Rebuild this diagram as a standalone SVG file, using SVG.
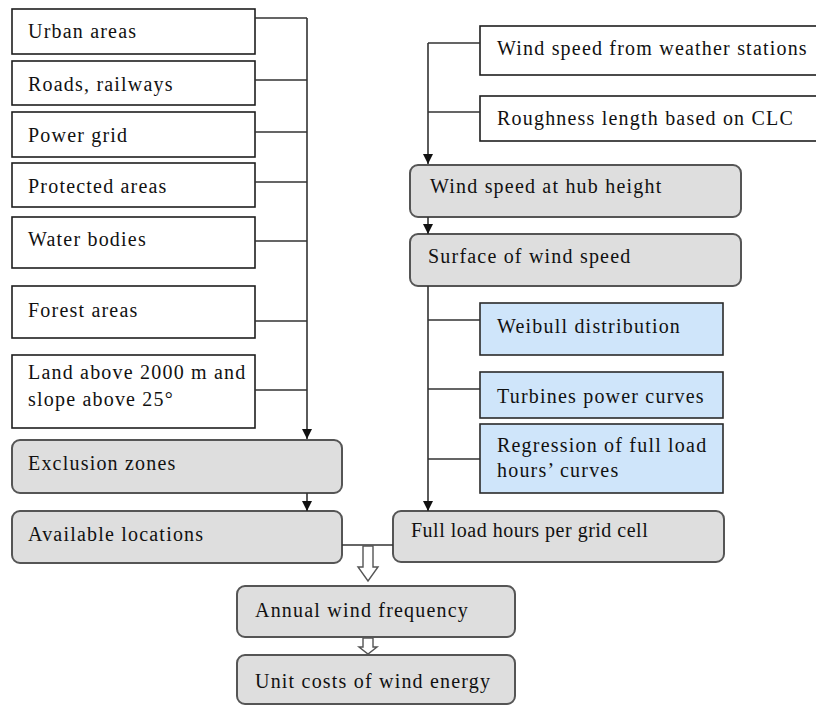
<svg xmlns="http://www.w3.org/2000/svg" width="816" height="706" viewBox="0 0 816 706">
<style>
.w{fill:#ffffff;stroke:#1e1e1e;stroke-width:1.6}
.g{fill:#dedede;stroke:#555555;stroke-width:2}
.b{fill:#cfe5fa;stroke:#2a2a2a;stroke-width:1.6}
text{font-family:"Liberation Serif","DejaVu Serif",serif;font-size:20px;fill:#111;letter-spacing:1.2px}
.ln{stroke:#333;stroke-width:1.6;fill:none}
.ha{fill:#ffffff;stroke:#555;stroke-width:1.4}
</style>
<defs>
<marker id="ar" markerWidth="10" markerHeight="10" refX="10" refY="5" orient="auto" markerUnits="userSpaceOnUse">
<path d="M0,0 L10,5 L0,10 Z" fill="#111"/>
</marker>
</defs>
<rect width="816" height="706" fill="#ffffff"/>
<g id="urban"><rect class="w" x="12" y="9" width="243" height="45"/><text x="28" y="38">Urban areas</text></g>
<g id="roads"><rect class="w" x="12" y="61" width="243" height="44"/><text x="28" y="91">Roads, railways</text></g>
<g id="power"><rect class="w" x="12" y="112" width="243" height="45"/><text x="28" y="142">Power grid</text></g>
<g id="protected"><rect class="w" x="12" y="163" width="243" height="44"/><text x="28" y="193">Protected areas</text></g>
<g id="water"><rect class="w" x="12" y="217" width="243" height="51"/><text x="28" y="246">Water bodies</text></g>
<g id="forest"><rect class="w" x="12" y="286" width="243" height="52"/><text x="28" y="317">Forest areas</text></g>
<g id="land"><rect class="w" x="12" y="355" width="243" height="73"/><text x="28" y="379">Land above 2000 m and</text><text x="28" y="406">slope above 25°</text></g>
<g id="exclusion"><rect class="g" x="12" y="440" width="330" height="53" rx="8"/><text x="28" y="470">Exclusion zones</text></g>
<g id="available"><rect class="g" x="12" y="511" width="330" height="52" rx="8"/><text x="28" y="541">Available locations</text></g>
<g id="windstations"><rect class="w" x="480" y="26" width="345" height="49"/><text x="497" y="55">Wind speed from weather stations</text></g>
<g id="roughness"><rect class="w" x="480" y="96" width="345" height="45"/><text x="497" y="125">Roughness length based on CLC</text></g>
<g id="hub"><rect class="g" x="410" y="165" width="331" height="52" rx="8"/><text x="430" y="193">Wind speed at hub height</text></g>
<g id="surface"><rect class="g" x="410" y="234" width="331" height="52" rx="8"/><text x="428" y="263">Surface of wind speed</text></g>
<g id="weibull"><rect class="b" x="480" y="303" width="243" height="52"/><text x="497" y="333">Weibull distribution</text></g>
<g id="turbines"><rect class="b" x="480" y="372" width="243" height="46"/><text x="497" y="403">Turbines power curves</text></g>
<g id="regression"><rect class="b" x="480" y="424" width="243" height="69"/><text x="497" y="452">Regression of full load</text><text x="497" y="477">hours’ curves</text></g>
<g id="fullload"><rect class="g" x="393" y="511" width="331" height="51" rx="8"/><text x="411" y="537" style="letter-spacing:0.5px">Full load hours per grid cell</text></g>
<g id="annual"><rect class="g" x="237" y="586" width="278" height="51" rx="8"/><text x="255" y="617">Annual wind frequency</text></g>
<g id="unitcosts"><rect class="g" x="237" y="655" width="278" height="49" rx="8"/><text x="255" y="688">Unit costs of wind energy</text></g>
<g id="connectors">
<path class="ln" d="M307,18 L307,439" marker-end="url(#ar)"/>
<path class="ln" d="M255,18 H307 M255,80 H307 M255,132 H307 M255,182 H307 M255,241 H307 M255,321 H307 M255,390 H307"/>
<path class="ln" d="M307,493 L307,511" marker-end="url(#ar)"/>
<path class="ln" d="M428,43 L428,164" marker-end="url(#ar)"/>
<path class="ln" d="M428,43 H480 M428,112 H480"/>
<path class="ln" d="M428,217 L428,234" marker-end="url(#ar)"/>
<path class="ln" d="M428,286 L428,511" marker-end="url(#ar)"/>
<path class="ln" d="M428,320 H480 M428,389 H480 M428,459 H480"/>
<path class="ln" d="M342,545 H393"/>
<path class="ha" d="M363,546 V567 H358 L368,581 L378,567 H373 V546 Z"/>
<path class="ha" d="M363,638 V647 H359 L368,654 L377,647 H373 V638 Z"/>
</g>
</svg>
